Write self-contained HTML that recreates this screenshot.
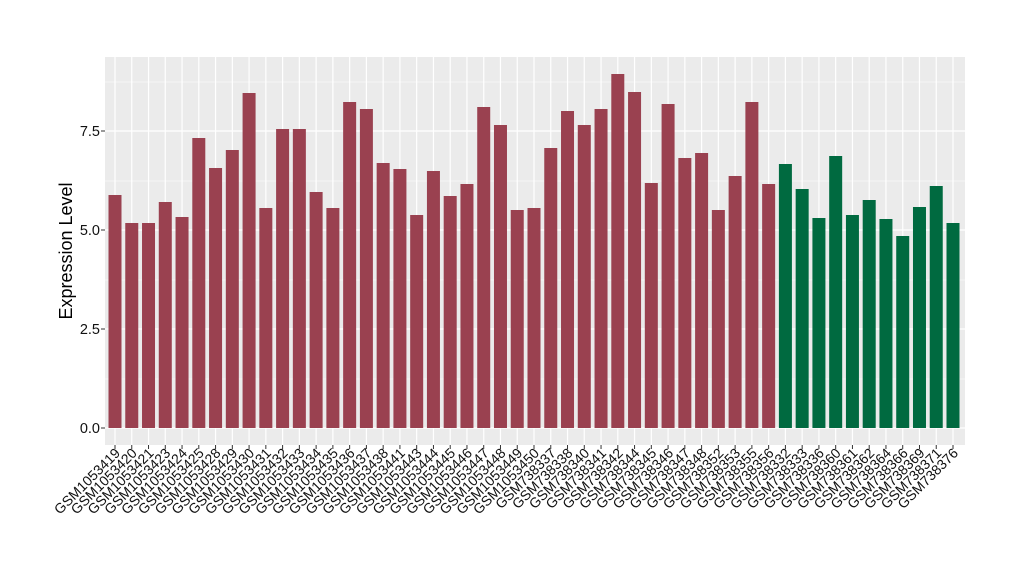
<!DOCTYPE html>
<html><head><meta charset="utf-8"><style>body{margin:0;background:#fff}svg{display:block}</style></head>
<body>
<svg width="1020" height="580" xmlns="http://www.w3.org/2000/svg" font-family="Liberation Sans, sans-serif">
<rect x="105" y="57" width="860" height="388" fill="#ebebeb"/>
<g stroke="#fff" stroke-width="0.6">
<line x1="105" x2="965" y1="379" y2="379"/><line x1="105" x2="965" y1="280" y2="280"/><line x1="105" x2="965" y1="181" y2="181"/><line x1="105" x2="965" y1="82" y2="82"/>
</g>
<g stroke="#fff" stroke-width="1.2">
<line x1="105" x2="965" y1="428" y2="428"/><line x1="105" x2="965" y1="329" y2="329"/><line x1="105" x2="965" y1="230" y2="230"/><line x1="105" x2="965" y1="131" y2="131"/>
</g>
<g id="vgrid" stroke="#fff" stroke-width="1.2"></g>
<g id="bars"></g>
<g font-size="14.5" fill="#111" text-anchor="end">
<text x="100" y="433">0.0</text><text x="100" y="334">2.5</text><text x="100" y="235">5.0</text><text x="100" y="136">7.5</text>
</g>
<g stroke="#333"><line x1="101" x2="105" y1="428" y2="428"/><line x1="101" x2="105" y1="329" y2="329"/><line x1="101" x2="105" y1="230" y2="230"/><line x1="101" x2="105" y1="131" y2="131"/></g>
<text transform="translate(72,251) rotate(-90)" font-size="18" text-anchor="middle" fill="#000">Expression Level</text>
<g id="labels" font-size="14" fill="#111" text-anchor="end"></g>
<script>
var names=["GSM1053419","GSM1053420","GSM1053421","GSM1053423","GSM1053424","GSM1053425","GSM1053428","GSM1053429","GSM1053430","GSM1053431","GSM1053432","GSM1053433","GSM1053434","GSM1053435","GSM1053436","GSM1053437","GSM1053438","GSM1053441","GSM1053443","GSM1053444","GSM1053445","GSM1053446","GSM1053447","GSM1053448","GSM1053449","GSM1053450","GSM738337","GSM738338","GSM738340","GSM738341","GSM738342","GSM738344","GSM738345","GSM738346","GSM738347","GSM738348","GSM738352","GSM738353","GSM738355","GSM738356","GSM738332","GSM738333","GSM738336","GSM738360","GSM738361","GSM738362","GSM738364","GSM738366","GSM738369","GSM738371","GSM738376"];
var tops=[195,223,223,202,217,138,168,150,93,208,129,129,192,208,102,109,163,169,215,171,196,184,107,125,210,208,148,111,125,109,74,92,183,104,158,153,210,176,102,184,164,189,218,156,215,200,219,236,207,186,223];
var ns="http://www.w3.org/2000/svg",b=document.getElementById("bars"),l=document.getElementById("labels"),vg=document.getElementById("vgrid"),ax=document.querySelector("svg");
for(var i=0;i<51;i++){var cx=115+i*16.76;
var g=document.createElementNS(ns,"line");g.setAttribute("x1",cx);g.setAttribute("x2",cx);g.setAttribute("y1",57);g.setAttribute("y2",445);vg.appendChild(g);
var r=document.createElementNS(ns,"rect");r.setAttribute("x",cx-6.5);r.setAttribute("width",13);r.setAttribute("y",tops[i]);r.setAttribute("height",428-tops[i]);r.setAttribute("fill",i<40?"#9a4150":"#006a40");b.appendChild(r);
var t=document.createElementNS(ns,"line");t.setAttribute("x1",cx);t.setAttribute("x2",cx);t.setAttribute("y1",445);t.setAttribute("y2",449);t.setAttribute("stroke","#333");ax.appendChild(t);
var tx=document.createElementNS(ns,"text");tx.setAttribute("transform","translate("+(cx+6)+",454) rotate(-45)");tx.textContent=names[i];l.appendChild(tx);}
</script>
</svg>
</body></html>
